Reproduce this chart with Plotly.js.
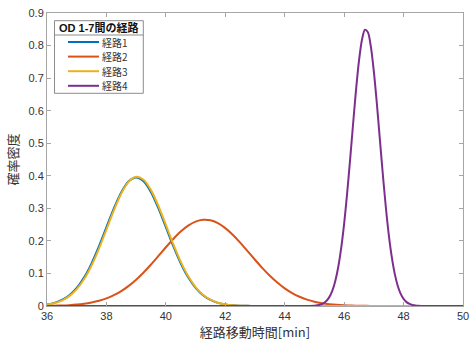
<!DOCTYPE html>
<html>
<head>
<meta charset="utf-8">
<script src="https://cdn.plot.ly/plotly-3.0.1.min.js"></script>
<style>html,body{margin:0;padding:0;background:#fff;}#chart{width:472px;height:350px;}</style>
</head>
<body>
<div id="chart"></div>
<script>
// x grid for routes 1-3 (min)
var xGrid = [36,36.25,36.5,36.75,37,37.25,37.5,37.75,38,38.25,38.5,38.75,39,39.25,39.5,39.75,40,40.25,40.5,40.75,41,41.25,41.5,41.75,42,42.25,42.5,42.75,43,43.25,43.5,43.75,44,44.25,44.5,44.75,45,45.25,45.5,45.75,46,46.25,46.5,46.75,47,47.25,47.5,47.75,48,48.25,48.5,48.75,49,49.25,49.5,49.75,50];
var route1 = [0.0048,0.0097,0.0185,0.0331,0.0556,0.0880,0.1311,0.1836,0.2420,0.2998,0.3494,0.3831,0.3950,0.3831,0.3494,0.2998,0.2420,0.1836,0.1311,0.0880,0.0556,0.0331,0.0185,0.0097,0.0048,0.0022,0.0010,0.0004,0.0002,0,0,0,0,0,0,0,0,0,0,0,0,0,0,0,0,0,0,0,0,0,0,0,0,0,0,0,0];
var route2 = [0.0005,0.0009,0.0016,0.0026,0.0043,0.0068,0.0106,0.0159,0.0233,0.0331,0.0458,0.0617,0.0808,0.1029,0.1276,0.1538,0.1804,0.2058,0.2285,0.2467,0.2591,0.2647,0.2631,0.2544,0.2393,0.2189,0.1949,0.1688,0.1421,0.1164,0.0928,0.0720,0.0543,0.0398,0.0284,0.0197,0.0133,0.0088,0.0056,0.0035,0.0021,0.0012,0.0007,0.0004,0.0002,0.0001,0,0,0,0,0,0,0,0,0,0,0];
var route3 = [0.0042,0.0087,0.0167,0.0303,0.0516,0.0827,0.1246,0.1764,0.2348,0.2938,0.3455,0.3819,0.3968,0.3876,0.3559,0.3072,0.2492,0.1900,0.1362,0.0918,0.0581,0.0346,0.0194,0.0102,0.0050,0.0023,0.0010,0.0004,0.0002,0,0,0,0,0,0,0,0,0,0,0,0,0,0,0,0,0,0,0,0,0,0,0,0,0,0,0,0];
// finer x grid for route 4
var x4 = [36,40,44,44.5,45,45.1,45.2,45.3,45.4,45.5,45.6,45.7,45.8,45.9,46,46.1,46.2,46.3,46.4,46.5,46.6,46.7,46.8,46.9,47,47.1,47.2,47.3,47.4,47.5,47.6,47.7,47.8,47.9,48,48.1,48.2,48.3,48.4,48.5,48.6,48.7,49,50];
var route4 = [0,0,0,0,0.0009,0.0020,0.0042,0.0082,0.0153,0.0273,0.0467,0.0763,0.1191,0.1777,0.2532,0.3449,0.4490,0.5584,0.6636,0.7537,0.8179,0.8483,0.8406,0.7959,0.7202,0.6227,0.5145,0.4062,0.3064,0.2209,0.1522,0.1001,0.0630,0.0379,0.0217,0.0119,0.0063,0.0031,0.0015,0.0007,0.0003,0.0001,0,0];
var seriesNames = ['経路1','経路2','経路3','経路4'];
var seriesColors = ['#0072BD','#D95319','#EDB120','#7E2F8E'];
var legendTitle = 'OD 1-7間の経路';
var xTitle = '経路移動時間[min]';
var yTitle = '確率密度';
var xTicks = [36,38,40,42,44,46,48,50];
var yTicks = [0,0.1,0.2,0.3,0.4,0.5,0.6,0.7,0.8,0.9];
var yTickText = ['0','0.1','0.2','0.3','0.4','0.5','0.6','0.7','0.8','0.9'];

var xs = [xGrid, xGrid, xGrid, x4];
var ys = [route1, route2, route3, route4];
var traces = ys.map(function(y, i){
  return {x: xs[i], y: y, type:'scatter', mode:'lines', name: seriesNames[i], showlegend:false,
    line:{color: seriesColors[i], width:2, shape:'spline', smoothing:0.8}};
});
var font = 'Liberation Sans, Arial, "Noto Sans CJK JP", sans-serif';
var cjk = '"Noto Sans CJK JP", "Liberation Sans", sans-serif';

// MATLAB-style boxed legend, placed in pixel terms of the plot area
var W = 472, H = 350, M = {l:47, r:9, t:13, b:44};
var pw = W - M.l - M.r, ph = H - M.t - M.b;
function px(x){ return (x - M.l) / pw; }
function py(y){ return (H - M.b - y) / ph; }
var legFont = 10, rowStep = 14.6;
var box = {x0:54.5, x1:143.3, y0:20.7, sep:35, titleY:28, lineX0:68, lineX1:99, textX:101, rowY0:42};
box.y1 = box.rowY0 + (seriesNames.length - 1) * rowStep + 7.5;
var shapes = [
  {type:'rect', xref:'paper', yref:'paper', x0:px(box.x0), x1:px(box.x1), y0:py(box.y1), y1:py(box.y0),
    line:{color:'#8c8c8c', width:1}, fillcolor:'#ffffff', layer:'above'},
  {type:'line', xref:'paper', yref:'paper', x0:px(box.x0), x1:px(box.x1), y0:py(box.sep), y1:py(box.sep),
    line:{color:'#8c8c8c', width:1}, layer:'above'}
];
var annotations = [
  {xref:'paper', yref:'paper', x:px((box.x0+box.x1)/2), y:py(box.titleY), xanchor:'center', yanchor:'middle',
    showarrow:false, borderpad:0, text:'<b>'+legendTitle+'</b>', font:{family:font, size:11, color:'#111111'}}
];
seriesNames.forEach(function(n, i){
  var yy = box.rowY0 + i*rowStep;
  shapes.push({type:'line', xref:'paper', yref:'paper', x0:px(box.lineX0), x1:px(box.lineX1), y0:py(yy), y1:py(yy),
    line:{color:seriesColors[i], width:2}, layer:'above'});
  annotations.push({xref:'paper', yref:'paper', x:px(box.textX), y:py(yy), xanchor:'left', yanchor:'middle',
    showarrow:false, borderpad:0, text:n, font:{family:cjk, size:legFont, color:'#333333'}});
});

var axisCommon = {showline:true, linecolor:'#a6a6a6', linewidth:1, mirror:'ticks',
  ticks:'inside', ticklen:4, tickcolor:'#a6a6a6', showgrid:false, zeroline:false,
  tickfont:{family:font, size:11, color:'#333333'}};
var layout = {
  width:W, height:H,
  margin:M,
  paper_bgcolor:'#ffffff', plot_bgcolor:'#ffffff',
  xaxis: Object.assign({}, axisCommon, {range:[36,50], tickvals:xTicks, ticktext:xTicks.map(String),
    title:{text:xTitle, font:{family:cjk, size:13, color:'#333333'}, standoff:5}}),
  yaxis: Object.assign({}, axisCommon, {range:[0,0.9], tickvals:yTicks, ticktext:yTickText,
    title:{text:yTitle, font:{family:cjk, size:13, color:'#333333'}, standoff:6}}),
  showlegend:false,
  shapes:shapes,
  annotations:annotations
};
Plotly.newPlot('chart', traces, layout, {displayModeBar:false, staticPlot:true});
</script>
</body>
</html>
